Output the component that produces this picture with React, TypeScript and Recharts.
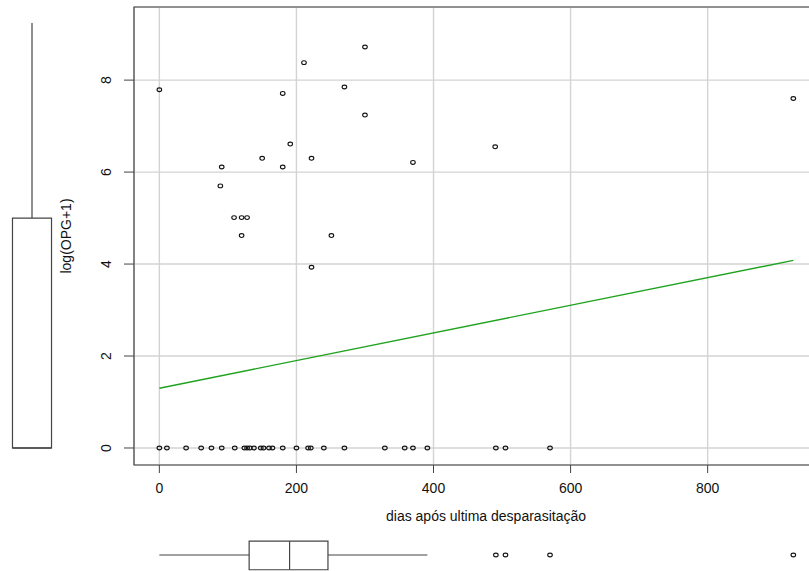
import React from 'react';
import {
    ScatterChart, Scatter, XAxis, YAxis, CartesianGrid, ReferenceArea, ReferenceLine
} from 'recharts';

// pontos com OPG > 0
const diasPositivos = [0, 211, 300, 180, 270, 300, 191, 150, 222, 91, 180, 370, 490, 89, 109, 120, 128, 120, 251, 222, 925];
const logOpgPositivos = [7.79, 8.38, 8.72, 7.71, 7.85, 7.24, 6.61, 6.30, 6.30, 6.11, 6.11, 6.21, 6.55, 5.70, 5.01, 5.01, 5.01, 4.62, 4.62, 3.93, 7.60];
// pontos com OPG = 0
const diasZero = [0, 11, 39, 61, 76, 91, 110, 124, 128, 132, 138, 148, 152, 160, 165, 180, 200, 217, 221, 240, 270, 329, 358, 370, 391, 491, 505, 570];

// reta de regressão (extremos)
const regDias = [0, 925];
const regLogOpg = [1.30, 4.08];

// boxplots marginais: [min, q1, mediana, q3, max]
const diasBox = [0, 131, 190, 246, 391];
const diasOutliers = [491, 505, 570, 925];
const opgBox = [0, 0, 0, 5.0, 9.24];

const xTicks = [0, 200, 400, 600, 800];
const yTicks = [0, 2, 4, 6, 8];
const xDomain = [-37, 961];
const yDomain = [-0.37, 9.59];

const FONT = '"Liberation Sans", Arial, sans-serif';
const INK = '#444';

const points = [
    ...diasPositivos.map((d, i) => ({ x: d, y: logOpgPositivos[i] })),
    ...diasZero.map((d) => ({ x: d, y: 0 })),
];
const regLine = regDias.map((d, i) => ({ x: d, y: regLogOpg[i] }));

const Ring = (props: any) => (
    <ellipse cx={props.cx} cy={props.cy} rx={2.3} ry={1.9} fill="none" stroke="#111" strokeWidth={1.1} />
);
const Nothing = () => <g />;

const XTick = (props: any) => (
    <text x={props.x} y={props.y + 18} textAnchor="middle" fontSize={14} fill="#111" fontFamily={FONT}>
        {props.payload.value}
    </text>
);

const YTick = (props: any) => {
    const bx = props.x - 11;
    return (
        <text x={bx} y={props.y} transform={`rotate(-90 ${bx} ${props.y})`} textAnchor="middle" fontSize={14} fill="#111" fontFamily={FONT}>
            {props.payload.value}
        </text>
    );
};

// posição dos boxplots no seu painel
const BOX_Y = 0.39;
const BOX_H = 0.34;
const LBOX_X = 1;
const LBOX_W = 0.61;

export default function App() {
    const [mn, q1, med, q3, mx] = diasBox;
    const [, oq1, omed, oq3, omx] = opgBox;

    return (
        <div style={{ position: 'fixed', left: 0, top: 0, width: 809, height: 571, overflow: 'hidden', background: '#fff' }}>
            {/* gráfico principal */}
            <div style={{ position: 'absolute', left: 0, top: 0 }}>
                <ScatterChart width={828} height={525} margin={{ top: 7, right: 10, bottom: 0, left: 52 }}>
                    <CartesianGrid stroke="#d3d3d3" strokeWidth={1.4} />
                    <XAxis
                        dataKey="x" type="number" domain={xDomain} ticks={xTicks} allowDataOverflow
                        axisLine={false} tickSize={8} stroke={INK} tick={XTick} height={60}
                        label={{ value: 'dias após ultima desparasitação', position: 'insideBottom', offset: 4, dx: 10, fontSize: 14, fill: '#111', fontFamily: FONT }}
                    />
                    <YAxis
                        dataKey="y" type="number" domain={yDomain} ticks={yTicks} allowDataOverflow
                        axisLine={false} tickSize={10} stroke={INK} tick={YTick} width={82}
                        label={{ value: 'log(OPG+1)', angle: -90, position: 'insideLeft', offset: 14, fontSize: 14, fill: '#111', fontFamily: FONT, style: { textAnchor: 'middle' } }}
                    />
                    <ReferenceArea x1={xDomain[0]} x2={xDomain[1]} y1={yDomain[0]} y2={yDomain[1]} fill="none" fillOpacity={0} stroke={INK} strokeWidth={1.2} />
                    <Scatter data={regLine} line={{ stroke: '#1fa31f', strokeWidth: 1.4 }} shape={Nothing} isAnimationActive={false} />
                    <Scatter data={points} shape={Ring} isAnimationActive={false} />
                </ScatterChart>
            </div>

            {/* boxplot de y à esquerda */}
            <div style={{ position: 'absolute', left: 0, top: 0 }}>
                <ScatterChart width={64} height={500} margin={{ top: 7, right: 0, bottom: 35, left: 0 }}>
                    <XAxis dataKey="x" type="number" domain={[0, 2]} hide allowDataOverflow />
                    <YAxis dataKey="y" type="number" domain={yDomain} hide allowDataOverflow />
                    <ReferenceArea x1={LBOX_X - LBOX_W} x2={LBOX_X + LBOX_W} y1={oq1} y2={oq3} fill="#fff" fillOpacity={1} stroke={INK} strokeWidth={1.2} />
                    <ReferenceLine segment={[{ x: LBOX_X - LBOX_W, y: omed }, { x: LBOX_X + LBOX_W, y: omed }]} stroke={INK} strokeWidth={1.6} />
                    <Scatter
                        data={[{ x: LBOX_X, y: oq3 }, { x: LBOX_X, y: omx }]}
                        line={{ stroke: INK, strokeWidth: 1.2 }} shape={Nothing} isAnimationActive={false}
                    />
                </ScatterChart>
            </div>

            {/* boxplot de x em baixo */}
            <div style={{ position: 'absolute', left: 0, top: 530 }}>
                <ScatterChart width={828} height={41} margin={{ top: 0, right: 10, bottom: 0, left: 134 }}>
                    <XAxis dataKey="x" type="number" domain={xDomain} hide allowDataOverflow />
                    <YAxis dataKey="y" type="number" domain={[0, 1]} hide allowDataOverflow />
                    <ReferenceArea x1={q1} x2={q3} y1={BOX_Y - BOX_H - 0.02} y2={BOX_Y + BOX_H} fill="#fff" fillOpacity={1} stroke={INK} strokeWidth={1.2} />
                    <ReferenceLine segment={[{ x: med, y: BOX_Y - BOX_H - 0.02 }, { x: med, y: BOX_Y + BOX_H }]} stroke={INK} strokeWidth={1.2} />
                    <Scatter data={[{ x: mn, y: BOX_Y }, { x: q1, y: BOX_Y }]} line={{ stroke: INK, strokeWidth: 1.2 }} shape={Nothing} isAnimationActive={false} />
                    <Scatter data={[{ x: q3, y: BOX_Y }, { x: mx, y: BOX_Y }]} line={{ stroke: INK, strokeWidth: 1.2 }} shape={Nothing} isAnimationActive={false} />
                    <Scatter data={diasOutliers.map((d) => ({ x: d, y: BOX_Y }))} shape={Ring} isAnimationActive={false} />
                </ScatterChart>
            </div>
        </div>
    );
}
